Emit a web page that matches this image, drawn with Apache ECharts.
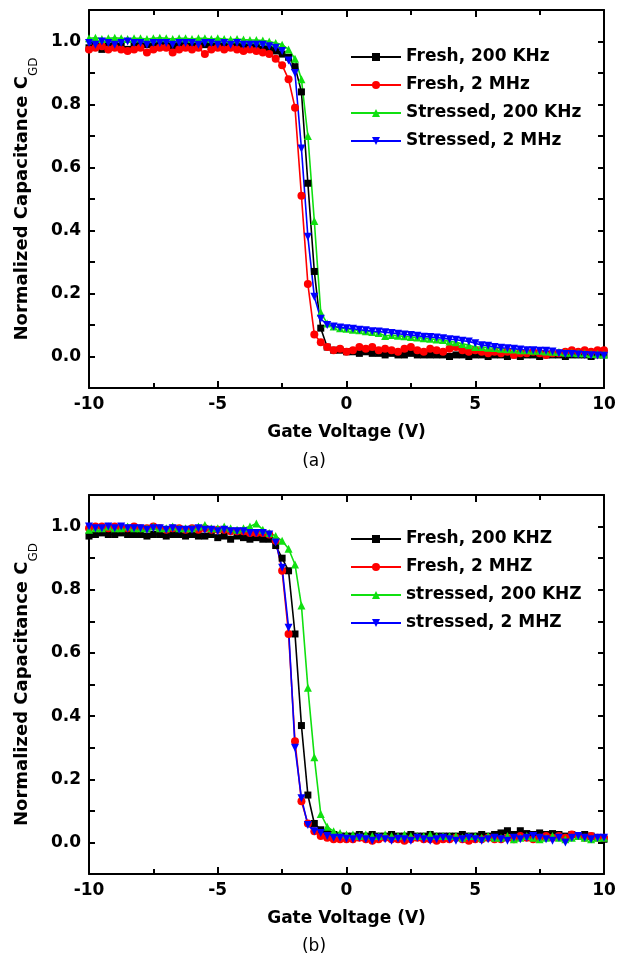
<!DOCTYPE html>
<html>
<head>
<meta charset="utf-8">
<title>CGD vs gate voltage</title>
<script src="https://cdn.jsdelivr.net/npm/echarts@6/dist/echarts.min.js"></script>
<style>
  html, body { margin: 0; padding: 0; background: #fff; }
  #main { width: 628px; height: 964px; }
</style>
</head>
<body>
<div id="main"></div>
<script>
// gate voltage sweep (V)
var volts = [
  -10, -9.75, -9.5, -9.25, -9, -8.75, -8.5, -8.25,
  -8, -7.75, -7.5, -7.25, -7, -6.75, -6.5, -6.25,
  -6, -5.75, -5.5, -5.25, -5, -4.75, -4.5, -4.25,
  -4, -3.75, -3.5, -3.25, -3, -2.75, -2.5, -2.25,
  -2, -1.75, -1.5, -1.25, -1, -0.75, -0.5, -0.25,
  0, 0.25, 0.5, 0.75, 1, 1.25, 1.5, 1.75,
  2, 2.25, 2.5, 2.75, 3, 3.25, 3.5, 3.75,
  4, 4.25, 4.5, 4.75, 5, 5.25, 5.5, 5.75,
  6, 6.25, 6.5, 6.75, 7, 7.25, 7.5, 7.75,
  8, 8.25, 8.5, 8.75, 9, 9.25, 9.5, 9.75,
  10
];

// ---- panel (a) ----
var namesA = ['Fresh, 200 KHz', 'Fresh, 2 MHz', 'Stressed, 200 KHz', 'Stressed, 2 MHz'];
var fresh200kA = [
  0.98, 0.985, 0.975, 0.985, 0.99, 0.985, 0.975, 0.985,
  0.99, 0.99, 0.985, 0.99, 0.99, 0.985, 0.99, 0.99,
  0.985, 0.99, 0.99, 0.985, 0.99, 0.985, 0.985, 0.985,
  0.985, 0.98, 0.98, 0.975, 0.975, 0.97, 0.96, 0.95,
  0.92, 0.84, 0.55, 0.27, 0.09, 0.03, 0.02, 0.02,
  0.015, 0.015, 0.01, 0.015, 0.01, 0.01, 0.005, 0.01,
  0.005, 0.005, 0.01, 0.005, 0.005, 0.005, 0.005, 0.005,
  0, 0.005, 0.005, 0, 0.005, 0.005, 0, 0.005,
  0.005, 0, 0.005, 0, 0.005, 0.005, 0, 0.005,
  0.005, 0.005, 0, 0.005, 0.005, 0.005, 0, 0.005,
  0.005
];
var fresh2mA = [
  0.975, 0.98, 0.985, 0.975, 0.98, 0.975, 0.97, 0.975,
  0.98, 0.965, 0.975, 0.98, 0.98, 0.965, 0.975, 0.98,
  0.975, 0.98, 0.96, 0.975, 0.98, 0.975, 0.98, 0.975,
  0.97, 0.975, 0.97, 0.965, 0.96, 0.945, 0.925, 0.88,
  0.79, 0.51, 0.23, 0.07, 0.045, 0.03, 0.02, 0.025,
  0.015, 0.02, 0.03, 0.025, 0.03, 0.02, 0.025, 0.02,
  0.015, 0.025, 0.03, 0.02, 0.015, 0.025, 0.02, 0.015,
  0.025, 0.03, 0.02, 0.015, 0.02, 0.015, 0.01, 0.015,
  0.01, 0.015, 0.005, 0.01, 0.01, 0.015, 0.01, 0.005,
  0.01, 0.01, 0.015, 0.02, 0.015, 0.02, 0.015, 0.02,
  0.02
];
var stressed200kA = [
  1.01, 1.012, 1.008, 1.01, 1.012, 1.01, 1.008, 1.01,
  1.01, 1.008, 1.01, 1.012, 1.01, 1.008, 1.01, 1.01,
  1.008, 1.01, 1.01, 1.008, 1.01, 1.008, 1.006, 1.008,
  1.006, 1.005, 1.005, 1.003, 1.0, 0.995, 0.99, 0.975,
  0.945, 0.88, 0.7, 0.43, 0.14, 0.105, 0.095, 0.09,
  0.088, 0.085, 0.083, 0.08, 0.078, 0.075, 0.065, 0.068,
  0.066, 0.064, 0.062, 0.06, 0.058, 0.056, 0.054, 0.052,
  0.048, 0.045, 0.04, 0.036, 0.03, 0.03, 0.028, 0.027,
  0.025, 0.023, 0.022, 0.02, 0.02, 0.018, 0.018, 0.016,
  0.015, 0.014, 0.012, 0.012, 0.01, 0.01, 0.008, 0.008,
  0.006
];
var stressed2mA = [
  0.995, 0.99, 1.0, 0.995, 0.99, 0.995, 1.0, 0.995,
  0.995, 0.99, 0.995, 0.995, 0.995, 0.99, 0.995, 0.995,
  0.995, 0.99, 0.995, 0.995, 0.99, 0.995, 0.99, 0.995,
  0.99, 0.99, 0.99, 0.99, 0.985, 0.98, 0.97, 0.94,
  0.9, 0.66, 0.38, 0.19, 0.12, 0.1, 0.095, 0.092,
  0.09, 0.088, 0.085, 0.083, 0.08, 0.079, 0.077, 0.075,
  0.072, 0.07, 0.068, 0.066, 0.063, 0.062, 0.06, 0.058,
  0.055, 0.053, 0.05, 0.048, 0.042, 0.036, 0.034, 0.03,
  0.028, 0.026, 0.025, 0.022, 0.02, 0.02, 0.018, 0.018,
  0.016, 0.01, 0.008, 0.008, 0.006, 0.005, 0.004, 0.003,
  0.002
];

// ---- panel (b) ----
var namesB = ['Fresh, 200 KHZ', 'Fresh, 2 MHZ', 'stressed, 200 KHZ', 'stressed, 2 MHZ'];
var fresh200kB = [
  0.97, 0.975, 0.98, 0.975, 0.975, 0.98, 0.975, 0.975,
  0.975, 0.97, 0.975, 0.975, 0.97, 0.975, 0.975, 0.97,
  0.975, 0.97, 0.97, 0.975, 0.965, 0.97, 0.96, 0.97,
  0.965, 0.96, 0.965, 0.96, 0.96, 0.94, 0.9, 0.86,
  0.66, 0.37, 0.15, 0.06, 0.04, 0.03, 0.025, 0.02,
  0.02, 0.02, 0.025, 0.02, 0.025, 0.02, 0.02, 0.025,
  0.02, 0.02, 0.025, 0.02, 0.02, 0.025, 0.02, 0.02,
  0.02, 0.02, 0.025, 0.02, 0.02, 0.025, 0.02, 0.025,
  0.03, 0.037, 0.025, 0.037, 0.028, 0.025, 0.03, 0.025,
  0.028, 0.025, 0.02, 0.025, 0.02, 0.025, 0.02, 0.015,
  0.01
];
var fresh2mB = [
  0.995, 1.0, 1.0, 0.995, 1.0, 0.995, 0.995, 1.0,
  0.995, 0.995, 1.0, 0.995, 0.99, 0.995, 0.995, 0.99,
  0.995, 0.99, 0.995, 0.99, 0.99, 0.99, 0.985, 0.985,
  0.985, 0.98, 0.98, 0.98, 0.975, 0.955, 0.86, 0.66,
  0.32, 0.13, 0.06, 0.035, 0.02, 0.015, 0.01, 0.01,
  0.01, 0.01, 0.015, 0.01, 0.005, 0.01, 0.015, 0.01,
  0.01, 0.005, 0.01, 0.015, 0.01, 0.01, 0.005, 0.01,
  0.01, 0.015, 0.01, 0.005, 0.01, 0.01, 0.015, 0.01,
  0.01, 0.015, 0.01, 0.02, 0.015, 0.01, 0.015, 0.02,
  0.015, 0.02, 0.015, 0.025, 0.02, 0.015, 0.02, 0.015,
  0.015
];
var stressed200kB = [
  0.99, 0.995, 0.995, 1.0, 0.995, 0.995, 1.0, 0.995,
  0.995, 0.995, 1.0, 0.995, 0.995, 1.0, 0.995, 0.995,
  0.995, 1.0, 1.005, 0.995, 0.995, 1.0, 0.995, 0.99,
  0.995, 1.0, 1.01, 0.99, 0.98, 0.97, 0.955, 0.93,
  0.88, 0.75, 0.49, 0.27, 0.09, 0.05, 0.035, 0.03,
  0.025, 0.025, 0.02, 0.025, 0.02, 0.02, 0.025, 0.02,
  0.02, 0.025, 0.02, 0.02, 0.02, 0.025, 0.02, 0.02,
  0.02, 0.02, 0.015, 0.02, 0.02, 0.015, 0.02, 0.015,
  0.015, 0.02, 0.01, 0.015, 0.02, 0.015, 0.01, 0.015,
  0.02, 0.015, 0.01, 0.015, 0.02, 0.015, 0.01, 0.015,
  0.015
];
var stressed2mB = [
  1.0, 0.995, 0.995, 1.0, 0.995, 1.0, 0.995, 0.995,
  0.995, 0.99, 0.995, 0.995, 0.99, 0.995, 0.99, 0.99,
  0.99, 0.995, 0.99, 0.99, 0.985, 0.99, 0.985, 0.985,
  0.985, 0.98, 0.98, 0.98, 0.975, 0.95, 0.87, 0.68,
  0.3, 0.14, 0.055, 0.035, 0.03, 0.02, 0.015, 0.015,
  0.012, 0.01, 0.015, 0.01, 0.005, 0.015, 0.01, 0.005,
  0.012, 0.01, 0.005, 0.015, 0.01, 0.005, 0.01, 0.015,
  0.01, 0.005, 0.01, 0.015, 0.01, 0.005, 0.01, 0.015,
  0.01, 0.005, 0.015, 0.01, 0.015, 0.02, 0.015, 0.01,
  0.005, 0.015, 0.0, 0.015, 0.02, 0.015, 0.01, 0.015,
  0.015
];

var colors = ['#000000', '#ff0000', '#10e010', '#0000ff'];
var symbols = ['rect', 'circle', 'triangle', 'triangle'];
var rotates = [0, 0, 0, 180];
var sizes = [7, 8, 8, 8];
var font = 'DejaVu Sans';

function pairs(ys) {
  return volts.map(function (v, i) { return [v, ys[i]]; });
}

function makeSeries(names, lists, xi, yi) {
  return lists.map(function (ys, k) {
    return {
      name: names[k],
      type: 'line',
      xAxisIndex: xi,
      yAxisIndex: yi,
      data: pairs(ys),
      symbol: symbols[k],
      symbolRotate: rotates[k],
      symbolSize: sizes[k],
      showAllSymbol: true,
      color: colors[k],
      lineStyle: { width: 1.6, color: colors[k] },
      itemStyle: { color: colors[k] },
      animation: false
    };
  });
}

var boldText = { color: '#000', fontFamily: font, fontWeight: 'bold', fontSize: 17 };

function xAxes(gi) {
  var base = {
    gridIndex: gi, type: 'value', min: -10, max: 10, interval: 5,
    axisLine: { onZero: false, lineStyle: { color: '#000', width: 2 } },
    axisTick: { inside: true, length: 7, lineStyle: { color: '#000', width: 2 } },
    minorTick: { show: true, splitNumber: 2, length: 5, lineStyle: { color: '#000', width: 2 } },
    splitLine: { show: false }
  };
  var bottom = Object.assign({}, base, {
    position: 'bottom',
    axisLabel: Object.assign({ margin: 8 }, boldText),
    name: 'Gate Voltage (V)', nameLocation: 'middle', nameGap: 36,
    nameTextStyle: boldText
  });
  var top = Object.assign({}, base, { position: 'top', axisLabel: { show: false } });
  return [bottom, top];
}

function yAxes(gi) {
  var base = {
    gridIndex: gi, type: 'value', min: -0.1, max: 1.1, interval: 0.1,
    axisLine: { onZero: false, lineStyle: { color: '#000', width: 2 } },
    axisTick: { inside: true, length: 6, lineStyle: { color: '#000', width: 2 } },
    splitLine: { show: false }
  };
  var left = Object.assign({}, base, {
    position: 'left',
    axisLabel: Object.assign({
      margin: 8,
      formatter: function (v) {
        var t = Math.round(v * 10);
        if (t < 0 || t > 10 || t % 2 !== 0) return '';
        return (t / 10).toFixed(1);
      }
    }, boldText),
    name: '{n|Normalized Capacitance C}{sub|GD}',
    nameLocation: 'middle', nameGap: 46,
    nameTextStyle: {
      color: '#000', fontFamily: font, fontWeight: 'bold', fontSize: 18,
      rich: {
        n: { fontFamily: font, fontWeight: 'bold', fontSize: 18, lineHeight: 18, verticalAlign: 'top', color: '#000' },
        sub: { fontFamily: font, fontWeight: 'normal', fontSize: 12, lineHeight: 12, verticalAlign: 'top', padding: [15, 0, 0, 0], color: '#000' }
      }
    }
  });
  var right = Object.assign({}, base, { position: 'right', axisLabel: { show: false } });
  return [left, right];
}

function legendFor(names, top) {
  return {
    data: names,
    orient: 'vertical',
    left: 345,
    top: top,
    itemWidth: 50,
    itemHeight: 10,
    itemGap: 8,
    textStyle: Object.assign({ lineHeight: 20 }, boldText),
    selectedMode: false
  };
}

var chart = echarts.init(document.getElementById('main'), null, { renderer: 'canvas' });
chart.setOption({
  backgroundColor: '#fff',
  animation: false,
  grid: [
    { left: 89, top: 10, width: 515, height: 378 },
    { left: 89, top: 495, width: 515, height: 379 }
  ],
  xAxis: xAxes(0).concat(xAxes(1)),
  yAxis: yAxes(0).concat(yAxes(1)),
  legend: [legendFor(namesA, 42), legendFor(namesB, 524)],
  series: makeSeries(namesA, [fresh200kA, fresh2mA, stressed200kA, stressed2mA], 0, 0)
    .concat(makeSeries(namesB, [fresh200kB, fresh2mB, stressed200kB, stressed2mB], 2, 2)),
  graphic: [
    { type: 'text', left: 'center', top: 453, style: { text: '(a)', fill: '#000', font: '17px "DejaVu Sans"' } },
    { type: 'text', left: 'center', top: 938, style: { text: '(b)', fill: '#000', font: '17px "DejaVu Sans"' } }
  ]
});
</script>
</body>
</html>
